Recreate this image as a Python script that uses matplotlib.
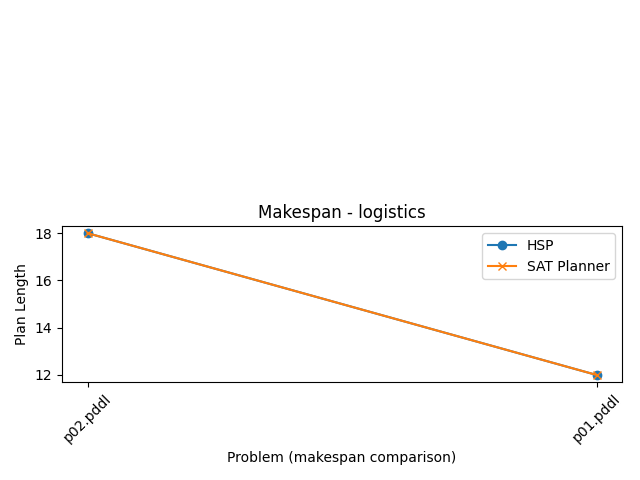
import matplotlib
matplotlib.use('Agg')
import matplotlib.pyplot as plt

problems = ['p02.pddl', 'p01.pddl']
hsp_len = [18, 12]
sat_len = [18, 12]

fig = plt.figure(figsize=(6.4, 4.8), dpi=100)
ax = fig.add_axes([0.097, 0.204, 0.875, 0.325])
ax.plot(problems, hsp_len, marker='o', label='HSP')
ax.plot(problems, sat_len, marker='x', label='SAT Planner')
ax.set_title('Makespan - logistics')
ax.set_xlabel('Problem (makespan comparison)')
ax.set_ylabel('Plan Length')
plt.setp(ax.get_xticklabels(), rotation=45)
ax.legend()
fig.savefig('out.png')
